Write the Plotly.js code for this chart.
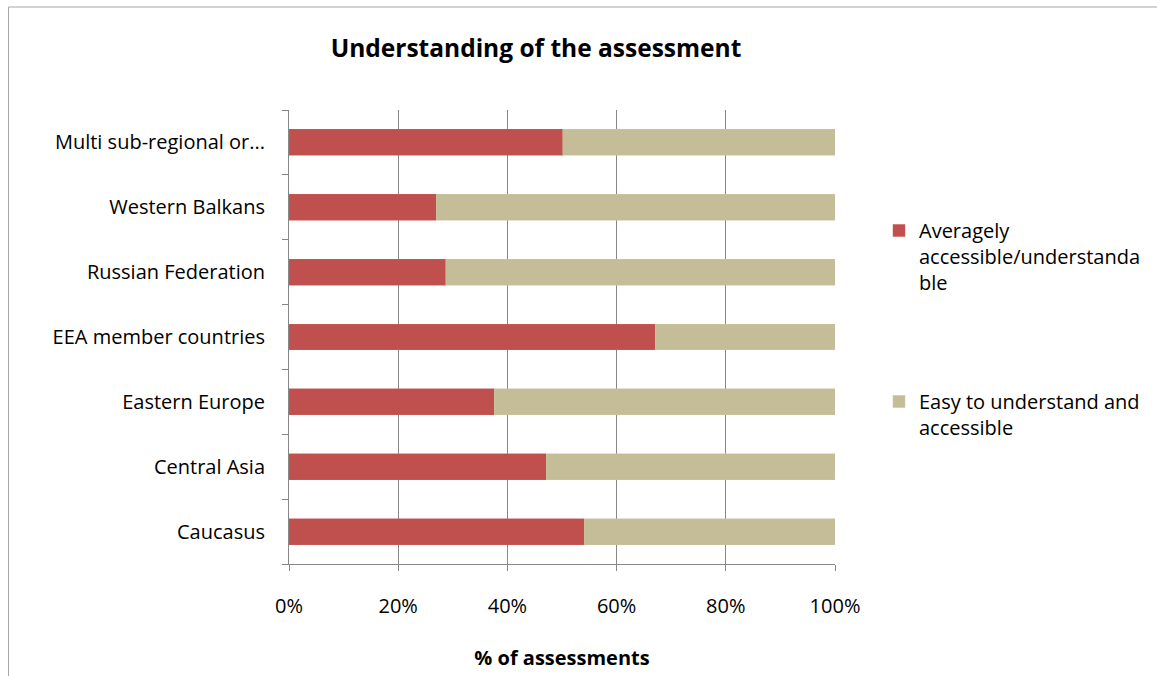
<!DOCTYPE html>
<html>
<head>
<meta charset="utf-8">
<script src="https://cdn.plot.ly/plotly-3.0.1.min.js"></script>
<style>html,body{margin:0;padding:0;background:#fff;}#chart{width:1157px;height:676px;}</style>
</head>
<body>
<div id="chart"></div>
<script>
const categories = ['Caucasus', 'Central Asia', 'Eastern Europe', 'EEA member countries', 'Russian Federation', 'Western Balkans', 'Multi sub-regional or...'];
const averagelyAccessible = [0.541, 0.471, 0.376, 0.671, 0.287, 0.270, 0.501];
const easyToUnderstand = [0.459, 0.529, 0.624, 0.329, 0.713, 0.730, 0.499];
const seriesNames = ['Averagely<br>accessible/understanda<br>ble', 'Easy to understand and<br>accessible'];
const xTickValues = [0, 0.2, 0.4, 0.6, 0.8, 1.0];

const FONT = '"Open Sans", Lato, sans-serif';
const traces = [
  {type: 'bar', orientation: 'h', y: categories, x: averagelyAccessible, name: seriesNames[0],
   marker: {color: '#C0504D', line: {color: '#C85C59', width: 0.5}}, legendgroup: 'a', hoverinfo: 'x+y'},
  {type: 'bar', orientation: 'h', y: categories, x: easyToUnderstand, name: seriesNames[1],
   marker: {color: '#C4BD97', line: {color: '#CCC6A3', width: 0.5}}, legendgroup: 'b', hoverinfo: 'x+y'}
];
const layout = {
  width: 1157, height: 676,
  margin: {l: 289, r: 321, t: 110, b: 112},
  paper_bgcolor: '#fff', plot_bgcolor: '#fff',
  font: {family: FONT, size: 20, color: '#000'},
  barmode: 'stack', bargap: 0.6,
  title: {text: '<b>Understanding of the assessment</b>', font: {family: FONT, size: 24.5, color: '#000'},
          x: 536 / 1157, xanchor: 'center', xref: 'container', y: 0.929, yanchor: 'middle', yref: 'container'},
  xaxis: {range: [0, 1], tickvals: xTickValues, tickformat: '.0%', showgrid: true, gridcolor: '#878787', gridwidth: 1,
          showline: true, linecolor: '#878787', linewidth: 1, ticks: 'outside', ticklen: 6, tickcolor: '#878787',
          ticklabelstandoff: 18, zeroline: false, fixedrange: true,
          title: {text: '<b>% of assessments</b>', font: {family: FONT, size: 20, color: '#000'}, standoff: 32}},
  yaxis: {type: 'category', categoryorder: 'array', categoryarray: categories, showgrid: false,
          showline: true, linecolor: '#878787', linewidth: 1, ticks: 'outside', ticklen: 6, tickcolor: '#878787',
          tickson: 'boundaries', ticklabelstandoff: 19, zeroline: false, fixedrange: true},
  legend: {xref: 'paper', yref: 'paper', xanchor: 'left', yanchor: 'top',
           x: (879 - 289) / 547, y: (564 - 211) / 454,
           font: {family: FONT, size: 20, color: '#000'},
           valign: 'top', tracegroupgap: 90, traceorder: 'grouped', bgcolor: 'rgba(0,0,0,0)'},
  shapes: [
    {type: 'rect', xref: 'paper', yref: 'paper', x0: (8 - 289) / 547, x1: 1.7, y0: -0.5, y1: (564 - 7) / 454,
     line: {color: '#A6A6A6', width: 1}, fillcolor: 'rgba(0,0,0,0)', layer: 'below'}
  ]
};
Plotly.newPlot('chart', traces, layout, {displayModeBar: false, staticPlot: true});
</script>
</body>
</html>
